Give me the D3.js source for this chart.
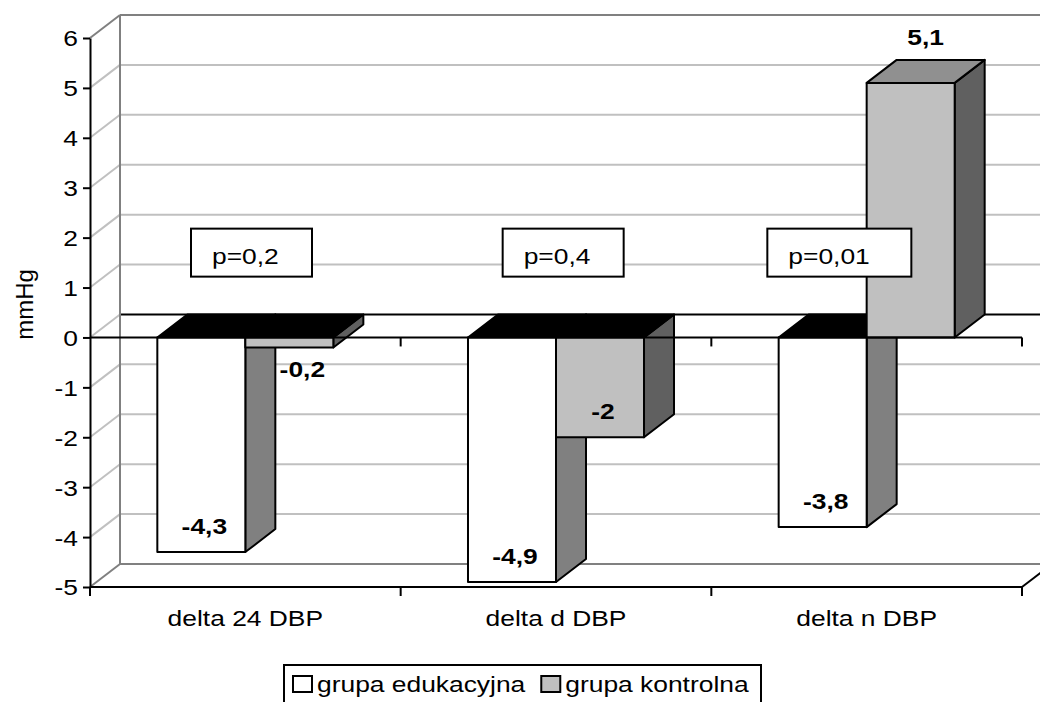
<!DOCTYPE html>
<html><head><meta charset="utf-8">
<script src="https://cdn.jsdelivr.net/npm/d3@7"></script>
<style>body{margin:0;background:#fff} svg{display:block} text{font-family:"Liberation Sans",Arial,sans-serif}</style>
</head><body><svg id="c" width="1040" height="702"></svg>
<script>
// ---- data ----
const categories = ["delta 24 DBP", "delta d DBP", "delta n DBP"];
const seriesNames = ["grupa edukacyjna", "grupa kontrolna"];
const eduValues = [-4.3, -4.9, -3.8];
const ctrlValues = [-0.2, -2, 5.1];
const yTickValues = [-5, -4, -3, -2, -1, 0, 1, 2, 3, 4, 5, 6];
const pLabels = ["p=0,2", "p=0,4", "p=0,01"];
const yTitle = "mmHg";

// ---- layout ----
const W = 1040, H = 702;
const X0 = 90, X1 = 1022;
const DX = 30, DY = -23;
const SX = 1.2;              // horizontal text stretch of the original
const FONT = 22;
const pBoxLayout = [{dx: 101, w: 121}, {dx: 102, w: 121}, {dx: 56, w: 144}];

const svg = d3.select("#c");
const y = d3.scaleLinear().domain([-5, 6]).range([587, 38]);
const x = d3.scaleBand().domain(categories).range([X0, X1]).padding(0);
const xs = d3.scaleBand().domain(seriesNames).range([0, x.bandwidth()]).paddingInner(0).paddingOuter(0.765);

function stretchText(parent, tx, ty, str, anchor, opts) {
  const g = parent.append("g").attr("transform", `translate(${tx},${ty}) scale(${SX},1)`);
  const t = g.append("text").attr("x", 0).attr("y", 0).attr("text-anchor", anchor || "start")
    .attr("font-size", (opts && opts.size) || FONT).attr("fill", "#000").text(str);
  if (opts && opts.bold) t.attr("font-weight", "bold");
  return g;
}

// ---- walls ----
const walls = svg.append("g");
yTickValues.forEach(v => {
  const edge = (v === 6 || v === -5);
  walls.append("line").attr("x1", X0 + DX).attr("x2", X1 + DX)
    .attr("y1", y(v) + DY).attr("y2", y(v) + DY)
    .attr("stroke", v === 0 ? "#000" : (edge ? "#808080" : "#c0c0c0")).attr("stroke-width", 2);
  walls.append("line").attr("x1", X0).attr("y1", y(v)).attr("x2", X0 + DX).attr("y2", y(v) + DY)
    .attr("stroke", edge ? "#808080" : "#c0c0c0").attr("stroke-width", 2);
});
walls.append("line").attr("x1", X0 + DX).attr("x2", X0 + DX)
  .attr("y1", y(6) + DY).attr("y2", y(-5) + DY).attr("stroke", "#808080").attr("stroke-width", 2);
walls.append("line").attr("x1", X1).attr("y1", y(-5)).attr("x2", X1 + DX).attr("y2", y(-5) + DY)
  .attr("stroke", "#000").attr("stroke-width", 2);

// ---- bars ----
const seriesStyle = [
  {front: "#ffffff", side: "#808080", top: "#909090"},
  {front: "#c0c0c0", side: "#606060", top: "#909090"}
];
const bars = [];
categories.forEach((c, i) => {
  [eduValues[i], ctrlValues[i]].forEach((v, s) => bars.push({c, s, v}));
});
const barG = svg.append("g");
bars.forEach(b => {
  const x0 = x(b.c) + xs(seriesNames[b.s]);
  const w = xs.bandwidth();
  const yTop = Math.min(y(0), y(b.v)), yBot = Math.max(y(0), y(b.v));
  const st = seriesStyle[b.s];
  const g = barG.append("g").attr("stroke", "#000").attr("stroke-width", 2).attr("stroke-linejoin", "round");
  g.append("polygon").attr("points", [
    [x0 + w, yTop], [x0 + w + DX, yTop + DY], [x0 + w + DX, yBot + DY], [x0 + w, yBot]].join(" "))
    .attr("fill", st.side);
  g.append("polygon").attr("points", [
    [x0, yTop], [x0 + DX, yTop + DY], [x0 + w + DX, yTop + DY], [x0 + w, yTop]].join(" "))
    .attr("fill", b.v < 0 ? "#000" : st.top);
  g.append("rect").attr("x", x0).attr("y", yTop).attr("width", w).attr("height", yBot - yTop)
    .attr("fill", st.front);
});

// ---- front axes ----
const ax = svg.append("g").attr("stroke", "#000").attr("stroke-width", 2);
[y(0), y(-5)].forEach(yy => {
  ax.append("line").attr("x1", X0).attr("x2", X1).attr("y1", yy).attr("y2", yy);
  categories.forEach(c => {
    const xx = x(c) + x.bandwidth();
    ax.append("line").attr("x1", xx).attr("x2", xx).attr("y1", yy).attr("y2", yy + 9);
  });
});
ax.append("line").attr("x1", X0).attr("x2", X0).attr("y1", y(-5)).attr("y2", y(-5) + 9);

const yAxis = svg.append("g").attr("transform", `translate(${X0},0)`)
  .call(d3.axisLeft(y).tickValues(yTickValues).tickFormat(d => String(d)).tickSize(7).tickSizeOuter(0).tickPadding(5));
yAxis.select(".domain").attr("stroke", "#000").attr("stroke-width", 2);
yAxis.selectAll(".tick line").attr("stroke", "#000").attr("stroke-width", 2);
yAxis.selectAll(".tick text").attr("font-size", FONT).attr("fill", "#000")
  .attr("font-family", "Liberation Sans, Arial, sans-serif")
  .attr("transform", `scale(${SX},1)`).attr("x", -12 / SX).attr("dy", "0.36em");

// category labels
categories.forEach(c => stretchText(svg, x(c) + x.bandwidth() / 2, 626, c, "middle"));

// y title
svg.append("text").attr("transform", `translate(33,${y(0.5) - 8}) rotate(-90)`)
  .attr("text-anchor", "middle").attr("font-size", 24).attr("fill", "#000").text(yTitle);

// ---- value labels ----
bars.forEach(b => {
  const cx = x(b.c) + xs(seriesNames[b.s]) + xs.bandwidth() / 2;
  const str = String(b.v).replace(".", ",");
  let lx, ly;
  if (b.v > 0) { lx = cx + DX / 2; ly = y(b.v) - 38; }
  else if (b.v > -1) { lx = cx + DX / 2 - 2; ly = y(b.v) + 30; }
  else { lx = cx + 3; ly = y(b.v) - 18; }
  stretchText(svg, lx, ly, str, "middle", {bold: true});
});

// ---- p-value boxes ----
const defs = svg.append("defs");
pLabels.forEach((p, i) => {
  const L = pBoxLayout[i];
  const bx = x(categories[i]) + L.dx, by = y(2) - 9, bh = 48;
  svg.append("rect").attr("x", bx).attr("y", by).attr("width", L.w).attr("height", bh)
    .attr("fill", "#fff").attr("stroke", "#000").attr("stroke-width", 2);
  defs.append("clipPath").attr("id", "pc" + i).append("rect")
    .attr("x", bx + 1).attr("y", by + 1).attr("width", L.w - 2).attr("height", bh - 9);
  const g = svg.append("g").attr("clip-path", `url(#pc${i})`);
  stretchText(g, bx + 21, by + 35, p, "start");
});

// ---- legend ----
const lg = svg.append("g");
lg.append("rect").attr("x", 284).attr("y", 665).attr("width", 477).attr("height", 46)
  .attr("fill", "#fff").attr("stroke", "#000").attr("stroke-width", 2);
let lx = 293;
seriesNames.forEach((n, s) => {
  lg.append("rect").attr("x", lx).attr("y", 676).attr("width", 19).attr("height", 16)
    .attr("fill", seriesStyle[s].front).attr("stroke", "#000").attr("stroke-width", 2);
  const g = stretchText(lg, lx + 24, 692, n, "start");
  const tw = g.select("text").node().getComputedTextLength() * SX;
  lx = lx + 24 + tw + 16;
});
</script></body></html>
